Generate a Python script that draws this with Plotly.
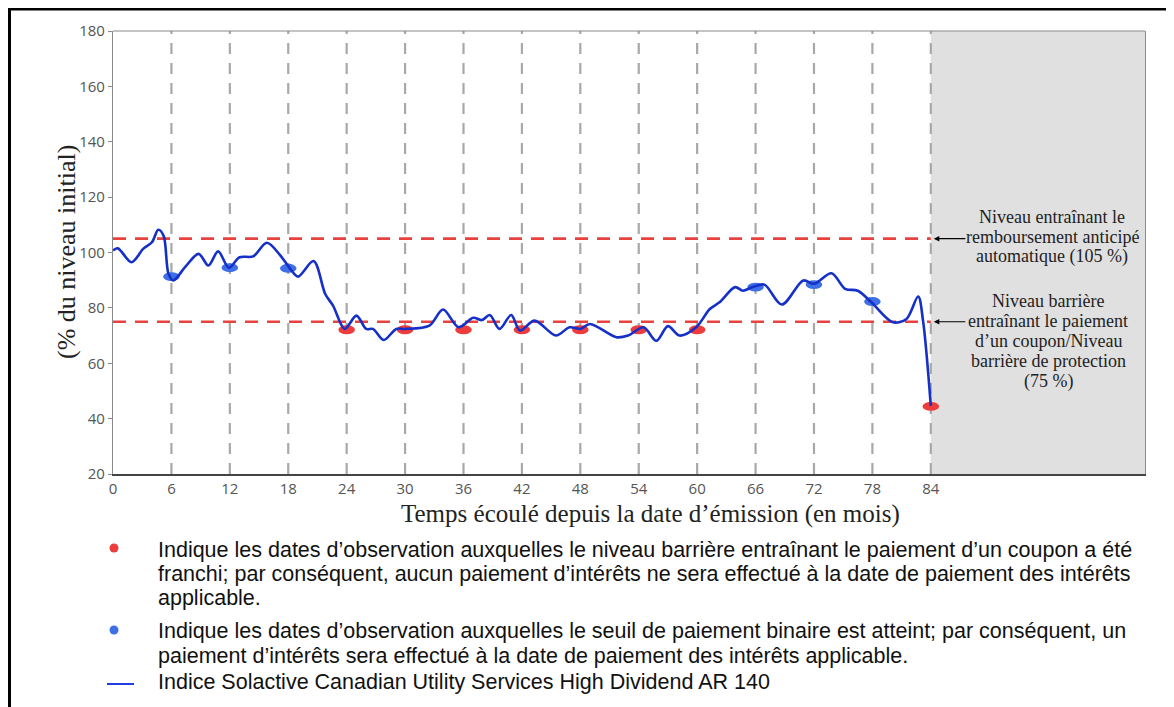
import plotly.graph_objects as go

# ---------------- data ----------------
months = [0, 0.5, 1.9, 3.1, 4.0, 4.65, 5.2, 5.7, 6.2, 7.4, 8.8, 9.8, 10.8, 11.9, 13.0, 14.4,
          15.8, 17.2, 18.2, 19.0, 20.6, 21.8, 22.6, 23.8, 25.0, 26.0, 26.7, 27.8, 29.1, 30.0,
          32.5, 33.9, 35.5, 37.0, 37.9, 38.7, 39.7, 40.9, 41.8, 43.3, 45.5, 46.9, 48.0, 49.0,
          51.7, 52.9, 54.5, 55.8, 57.0, 58.2, 59.9, 61.3, 62.3, 63.9, 64.7, 65.7, 66.9, 68.7,
          70.9, 72.0, 73.8, 75.2, 76.5, 77.9, 80.1, 81.5, 82.7, 83.2, 84.0]
index_level = [100.7, 101.5, 96.5, 101.3, 103.7, 108.2, 106.0, 92.3, 89.9, 94.7, 99.5, 95.3,
               100.4, 94.5, 98.3, 98.6, 103.5, 98.9, 94.1, 91.3, 96.9, 85.0, 80.8, 72.4, 77.2,
               72.4, 72.4, 68.4, 72.4, 72.4, 73.6, 79.4, 73.0, 76.4, 75.6, 77.4, 72.4, 77.4,
               71.8, 75.4, 70.0, 73.0, 72.4, 74.2, 69.4, 70.0, 73.0, 68.1, 73.4, 70.0, 73.0,
               79.6, 82.0, 87.5, 86.2, 87.5, 88.4, 81.2, 89.9, 88.7, 92.5, 86.9, 86.2, 82.0,
               74.8, 76.0, 84.1, 75.4, 44.6]

obs_months = [6, 12, 18, 24, 30, 36, 42, 48, 54, 60, 66, 72, 78, 84]
obs_levels = [91.3, 94.5, 94.3, 72.1, 72.1, 72.1, 72.1, 72.1, 72.1, 72.1, 87.5, 88.4, 82.3, 44.4]
obs_status = ["paid", "paid", "paid", "missed", "missed", "missed", "missed", "missed",
              "missed", "missed", "paid", "paid", "paid", "missed"]

x_ticks = [0, 6, 12, 18, 24, 30, 36, 42, 48, 54, 60, 66, 72, 78, 84]
y_ticks = [20, 40, 60, 80, 100, 120, 140, 160, 180]
autocall_level = 105
barrier_level = 75
maturity = 84
x_max = 106
y_min, y_max = 20, 180

autocall_lines = ["Niveau entraînant le", "remboursement anticipé", "automatique (105 %)"]
barrier_lines = ["Niveau barrière", "entraînant le paiement", "d’un coupon/Niveau",
                 "barrière de protection", "(75 %)"]
legend_red = ["Indique les dates d’observation auxquelles le niveau barrière entraînant le paiement d’un coupon a été",
              "franchi; par conséquent, aucun paiement d’intérêts ne sera effectué à la date de paiement des intérêts",
              "applicable."]
legend_blue = ["Indique les dates d’observation auxquelles le seuil de paiement binaire est atteint; par conséquent, un",
               "paiement d’intérêts sera effectué à la date de paiement des intérêts applicable."]
legend_line = "Indice Solactive Canadian Utility Services High Dividend AR 140"
x_title = "Temps écoulé depuis la date d’émission (en mois)"
y_title = "(% du niveau initial)"

# ---------------- layout helpers ----------------
OFF = 8  # page body margin
W, H = 1174 - OFF, 707 - OFF
L, R, T, B = 113 - OFF, 1145 - OFF, 31 - OFF, 474 - OFF


def xp(px):
    return (px - OFF - L) / (R - L)


def yp(py):
    return (B - (py - OFF)) / (B - T)


RED = "#ee3b3b"
BLUE_DOT = "#3f6fe4"
LINE_BLUE = "#1530c8"
SERIF = "Liberation Serif"
SANS = "Liberation Sans"

fig = go.Figure()
fig.add_trace(go.Scatter(x=months, y=index_level, mode="lines",
                         line=dict(color=LINE_BLUE, width=2.6, shape="spline", smoothing=0.9),
                         hoverinfo="skip", showlegend=False))

shapes = []
shapes.append(dict(type="rect", xref="x", yref="y", x0=maturity, x1=x_max, y0=y_min, y1=y_max,
                   fillcolor="#e0e0e0", line=dict(width=0), layer="below"))
for m in obs_months:
    shapes.append(dict(type="line", xref="x", yref="y", x0=m, x1=m, y0=y_min, y1=y_max,
                       line=dict(color="#a8a8a8", width=2.2, dash="11px,9px"), layer="below"))
for lvl in (autocall_level, barrier_level):
    shapes.append(dict(type="line", xref="x", yref="y", x0=0, x1=maturity, y0=lvl, y1=lvl,
                       line=dict(color="#e8423f", width=2.6, dash="13px,9px"), layer="below"))
for m, v, s in zip(obs_months, obs_levels, obs_status):
    c = BLUE_DOT if s == "paid" else RED
    shapes.append(dict(type="circle", xref="x", yref="y", x0=m - 0.85, x1=m + 0.85,
                       y0=v - 1.6, y1=v + 1.6, fillcolor=c, line=dict(width=0), layer="below"))
shapes.append(dict(type="line", xref="paper", yref="paper", x0=0, x1=1, y0=1, y1=1,
                   line=dict(color="#8a8a8a", width=1.2)))
shapes.append(dict(type="path", xref="paper", yref="paper",
                   path=f"M {xp(9.5)} {yp(720)} L {xp(9.5)} {yp(9)} L {xp(1180)} {yp(9)}",
                   line=dict(color="black", width=3)))
shapes.append(dict(type="circle", xref="paper", yref="paper", x0=xp(109.5), x1=xp(118.5),
                   y0=yp(552.5), y1=yp(543.5), fillcolor=RED, line=dict(width=0)))
shapes.append(dict(type="circle", xref="paper", yref="paper", x0=xp(109.5), x1=xp(118.5),
                   y0=yp(634.5), y1=yp(625.5), fillcolor=BLUE_DOT, line=dict(width=0)))
shapes.append(dict(type="line", xref="paper", yref="paper", x0=xp(107), x1=xp(134),
                   y0=yp(684), y1=yp(684), line=dict(color="#1f3fe0", width=2)))

annotations = []
annotations.append(dict(text=y_title, xref="paper", yref="paper", x=xp(66), y=yp(252),
                        textangle=-90, showarrow=False, xanchor="center", yanchor="middle",
                        font=dict(family=SERIF, size=26, color="#222")))
annotations.append(dict(text=x_title, xref="paper", yref="paper", x=xp(650), y=yp(514),
                        showarrow=False, xanchor="center", yanchor="middle",
                        font=dict(family=SERIF, size=25, color="#222")))
for i, t in enumerate(autocall_lines):
    annotations.append(dict(text=t, xref="paper", yref="paper", x=xp(1052), y=yp(217 + 20 * i),
                            showarrow=False, xanchor="center", yanchor="middle",
                            font=dict(family=SERIF, size=18, color="#222")))
for i, t in enumerate(barrier_lines):
    annotations.append(dict(text=t, xref="paper", yref="paper", x=xp(1048), y=yp(301 + 20 * i),
                            showarrow=False, xanchor="center", yanchor="middle",
                            font=dict(family=SERIF, size=18, color="#222")))
for lvl in (autocall_level, barrier_level):
    annotations.append(dict(text="", x=maturity, y=lvl, xref="x", yref="y", showarrow=True,
                            ax=36, ay=0, arrowhead=2, arrowsize=1, arrowwidth=1.1,
                            arrowcolor="black", standoff=3))
for i, t in enumerate(legend_red):
    annotations.append(dict(text=t, xref="paper", yref="paper", x=xp(156), y=yp(550 + 24 * i),
                            showarrow=False, xanchor="left", yanchor="middle",
                            font=dict(family=SANS, size=21.5, color="#111")))
for i, t in enumerate(legend_blue):
    annotations.append(dict(text=t, xref="paper", yref="paper", x=xp(156), y=yp(631 + 25 * i),
                            showarrow=False, xanchor="left", yanchor="middle",
                            font=dict(family=SANS, size=21.5, color="#111")))
annotations.append(dict(text=legend_line, xref="paper", yref="paper", x=xp(156), y=yp(682),
                        showarrow=False, xanchor="left", yanchor="middle",
                        font=dict(family=SANS, size=21.5, color="#111")))

fig.update_layout(
    width=W, height=H,
    margin=dict(l=L, r=W - R, t=T, b=H - B, pad=0),
    paper_bgcolor="white", plot_bgcolor="white",
    showlegend=False,
    shapes=shapes, annotations=annotations,
    xaxis=dict(range=[0, x_max], tickvals=x_ticks, ticktext=[str(v) for v in x_ticks],
               showgrid=False, zeroline=False, showline=True, linecolor="#444", linewidth=1.5,
               ticks="", tickfont=dict(family="Open Sans", size=15, color="#555")),
    yaxis=dict(range=[y_min, y_max], tickvals=y_ticks, showgrid=False, zeroline=False,
               showline=True, linecolor="#8a8a8a", linewidth=1.2, mirror=True,
               ticks="outside", ticklen=4, tickcolor="#8a8a8a",
               tickfont=dict(family="Open Sans", size=15, color="#555")),
)

fig.write_html("out.html")
